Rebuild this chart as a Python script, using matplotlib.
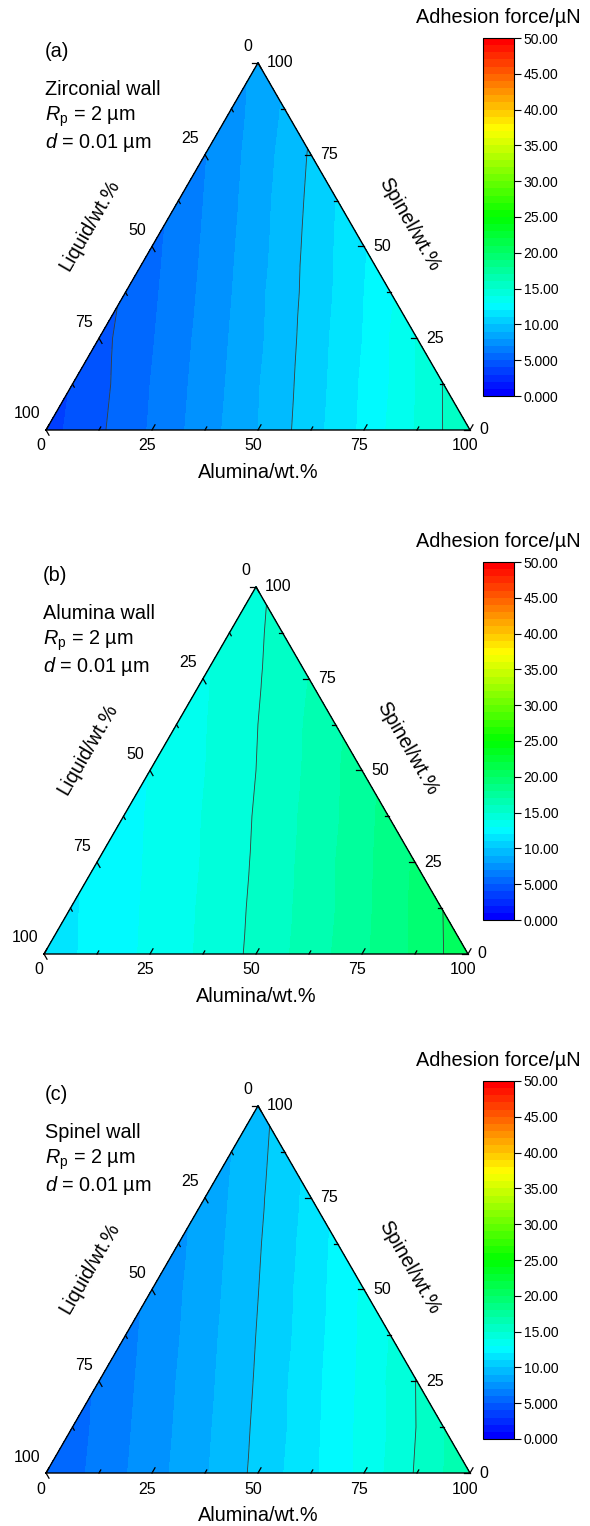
import numpy as np
import matplotlib
matplotlib.use('Agg')
import matplotlib.pyplot as plt
from matplotlib.colors import LinearSegmentedColormap, Normalize
from matplotlib.ticker import FixedLocator, FixedFormatter
import matplotlib.cm as cm

plt.rcParams['font.family'] = ['Liberation Sans', 'DejaVu Sans']
plt.rcParams['mathtext.fontset'] = 'custom'
plt.rcParams['mathtext.rm'] = 'Liberation Sans'
plt.rcParams['mathtext.it'] = 'Liberation Sans:italic'

# ---------------------------------------------------------------- data
panel_tags = ['(a)', '(b)', '(c)']
wall_names = ['Zirconial wall', 'Alumina wall', 'Spinel wall']
radius_text = r'$R_\mathrm{p}$ = 2 µm'
gap_text = r'$d$ = 0.01 µm'

# adhesion force / uN on a ternary grid
# row i : spinel = 12.5*i wt.%, entries : alumina = 0, 12.5, ... up to 100-spinel
force_zirconia = [
    [3.60, 4.83, 6.13, 7.54, 9.00, 10.58, 12.23, 14.11, 15.95],
    [4.07, 5.36, 6.74, 8.17, 9.71, 11.31, 13.05, 15.04],
    [4.68, 5.93, 7.35, 8.81, 10.44, 12.05, 14.04],
    [5.14, 6.51, 7.98, 9.56, 11.14, 12.85],
    [5.71, 7.14, 8.64, 10.31, 11.90],
    [6.30, 7.79, 9.40, 11.05],
    [6.95, 8.47, 10.13],
    [7.58, 9.13],
    [8.30],
]
force_alumina = [
    [11.45, 12.31, 13.21, 14.18, 15.26, 16.43, 17.78, 19.18, 20.70],
    [11.86, 12.72, 13.63, 14.65, 15.76, 17.00, 18.44, 19.96],
    [12.27, 13.12, 14.06, 15.13, 16.31, 17.69, 19.13],
    [12.65, 13.53, 14.53, 15.64, 16.89, 18.36],
    [13.02, 13.95, 15.00, 16.17, 17.57],
    [13.43, 14.41, 15.51, 16.77],
    [13.86, 14.88, 16.02],
    [14.29, 15.37],
    [14.76],
]
force_spinel = [
    [5.05, 6.33, 7.57, 8.90, 10.28, 11.76, 13.32, 15.13, 16.85],
    [5.58, 6.86, 8.14, 9.50, 10.92, 12.50, 14.12, 15.95],
    [6.16, 7.40, 8.73, 10.13, 11.66, 13.26, 15.05],
    [6.69, 7.96, 9.35, 10.77, 12.38, 14.04],
    [7.22, 8.55, 9.98, 11.50, 13.18],
    [7.77, 9.18, 10.63, 12.28],
    [8.37, 9.81, 11.32],
    [8.99, 10.46],
    [9.64],
]
forces = [force_zirconia, force_alumina, force_spinel]

tick_vals = [0, 25, 50, 75, 100]
minor_vals = [12.5, 37.5, 62.5, 87.5]
cbar_ticks = [0, 5, 10, 15, 20, 25, 30, 35, 40, 45, 50]
cbar_labels = ['0.000', '5.000', '10.00', '15.00', '20.00', '25.00',
               '30.00', '35.00', '40.00', '45.00', '50.00']
line_levels = [5, 10, 15, 20, 25]

# ---------------------------------------------------------------- layout (pixels)
W, H = 590, 1526
SIDE = 424.0
corners = [(46, 430), (44, 954), (46, 1473)]
cbar_tops = [38, 562, 1081]
CB_H = 358
R3 = np.sqrt(3) / 2

cmap = LinearSegmentedColormap.from_list(
    'origin_rainbow', ['#0000ff', '#00ffff', '#00ff00', '#ffff00', '#ff0000'], N=50)

fig = plt.figure(figsize=(W / 100, H / 100), dpi=100)


def tern(a, s):
    # alumina, spinel fractions -> cartesian
    return a + s / 2.0, s * R3


def off(dx, dy):
    return dx / SIDE, dy / SIDE


cbars = []
for k in range(3):
    bx, by = corners[k]
    ax = fig.add_axes([0, 1 - (by + 60) / H, 480 / W, 485 / H])
    ax.set_xlim(-bx / SIDE, (480 - bx) / SIDE)
    ax.set_ylim(-60 / SIDE, 425 / SIDE)
    ax.axis('off')

    xs, ys, zs = [], [], []
    for i, row in enumerate(forces[k]):
        for j, v in enumerate(row):
            x, y = tern(j / 8.0, i / 8.0)
            xs.append(x)
            ys.append(y)
            zs.append(v)
    ax.tricontourf(xs, ys, zs, levels=np.arange(0, 51, 1), cmap=cmap,
                   norm=Normalize(0, 50))
    ax.tricontour(xs, ys, zs, levels=line_levels, colors='#3a3a3a', linewidths=0.6)

    # triangle frame
    ax.plot([0, 1, 0.5, 0], [0, 0, R3, 0], color='black', lw=1.0,
            solid_joinstyle='miter', zorder=5)

    # ticks
    for v in tick_vals + minor_vals:
        f = v / 100.0
        ln = (6.0 if v in tick_vals else 3.5) / SIDE
        # bottom (alumina): parallel to left edge
        x0, y0 = tern(f, 0)
        ax.plot([x0, x0 + 0.5 * ln], [y0, y0 + R3 * ln], color='black', lw=0.9, zorder=5)
        # left (liquid): parallel to right edge
        x0, y0 = tern(0, 1 - f)
        ax.plot([x0, x0 + 0.5 * ln], [y0, y0 - R3 * ln], color='black', lw=0.9, zorder=5)
        # right (spinel): horizontal
        x0, y0 = tern(1 - f, f)
        ax.plot([x0, x0 - ln], [y0, y0], color='black', lw=0.9, zorder=5)

    for v in tick_vals:
        f = v / 100.0
        x0, y0 = tern(f, 0)
        dx, dy = off(-5, -16)
        ax.text(x0 + dx, y0 + dy, str(v), ha='center', va='center', size=11.5)
        x0, y0 = tern(0, 1 - f)
        dx, dy = off(-6, 16)
        ax.text(x0 + dx, y0 + dy, str(v), ha='right', va='center', size=11.5)
        x0, y0 = tern(1 - f, f)
        dx, dy = off(9, 0)
        ax.text(x0 + dx, y0 + dy, str(v), ha='left', va='center', size=11.5)

    # axis titles
    tx, ty = off(212, -42)
    ax.text(tx, ty, 'Alumina/wt.%', ha='center', va='center', size=14.3)
    tx, ty = off(44, 205)
    ax.text(tx, ty, 'Liquid/wt.%', ha='center', va='center', size=14.3,
            rotation=60, rotation_mode='anchor')
    tx, ty = off(363, 206)
    ax.text(tx, ty, 'Spinel/wt.%', ha='center', va='center', size=14.3,
            rotation=-60, rotation_mode='anchor')

    # panel notes
    tx, ty = off(-1, 373)
    ax.text(tx, ty, panel_tags[k], ha='left', va='baseline', size=14.3)
    tx, ty = off(-1, 335)
    ax.text(tx, ty, wall_names[k], ha='left', va='baseline', size=14.3)
    tx, ty = off(-1, 309)
    ax.text(tx, ty, radius_text, ha='left', va='baseline', size=14.3)
    tx, ty = off(-1, 282)
    ax.text(tx, ty, gap_text, ha='left', va='baseline', size=14.3)

    # colour bar
    top = cbar_tops[k]
    cax = fig.add_axes([483 / W, 1 - (top + CB_H) / H, 31 / W, CB_H / H])
    cb = fig.colorbar(cm.ScalarMappable(norm=Normalize(0, 50), cmap=cmap), cax=cax)
    cb.outline.set_linewidth(0.8)
    cbars.append(cb)
    fig.text(498.7 / W, 1 - (top - 20.5) / H, 'Adhesion force/µN',
             ha='center', va='center', size=14.3)

for cb in cbars:
    cb.locator = FixedLocator(cbar_ticks)
    cb.formatter = FixedFormatter(cbar_labels)
    cb.update_ticks()
    cb.ax.tick_params(direction='out', length=5, width=0.8, labelsize=10, pad=2)

fig.savefig('out.png', dpi=100)
